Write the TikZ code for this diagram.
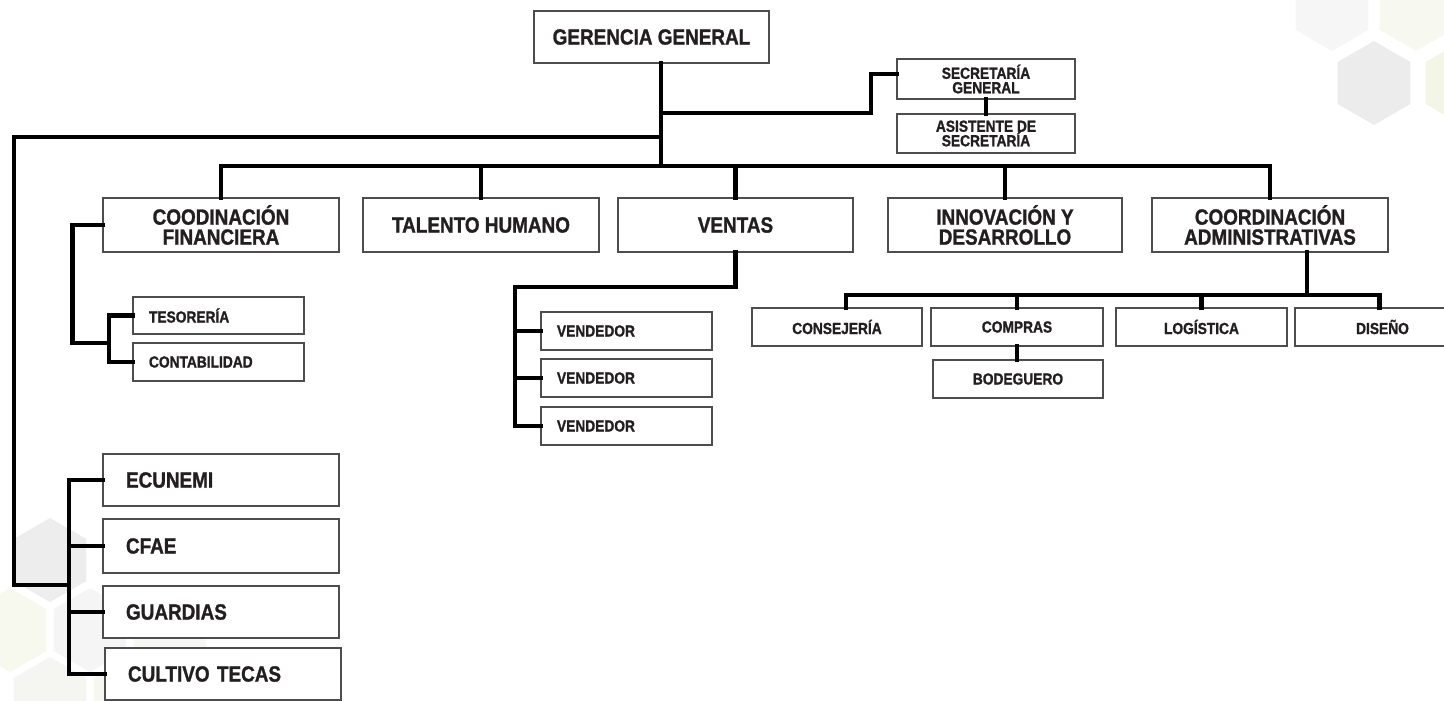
\documentclass[tikz,border=0pt]{standalone}
\usepackage{fontspec}
\newfontfamily\orgfont[FakeStretch=0.86,FakeBold=1.2]{Liberation Sans}
\definecolor{tinta}{HTML}{231F20}
\definecolor{borde}{HTML}{4D4D4D}
\begin{document}
\begin{tikzpicture}[x=1pt,y=-1pt,
  linea/.style={line width=4.5pt,line cap=rect,black},
  cargo/.style={draw=borde,line width=1.3pt,fill=white,inner sep=0pt,align=center,text=tinta,
    font=\orgfont\bfseries\fontsize{22}{20}\selectfont},
  menor/.style={cargo,font=\orgfont\bfseries\fontsize{16}{14.5}\selectfont},
  izq/.style={align=left,inner xsep=#1,text width=\pgfkeysvalueof{/pgf/minimum width}-2*#1}]
\useasboundingbox (0,0) rectangle (1444,701);
\foreach \cx/\cy/\col in {1374/83/ECECEC,1332/9/F6F6F6,1416/9/F7F8EF,1462/83/F3F5E6,
  50/560/EDEDED,10/630/F7F8EE,90/630/F5F5F5,170/630/F7F7F3,50/699/F5F5F2,130/699/F7F7F1}{
  \definecolor{hexa}{HTML}{\col}
  \fill[hexa] (\cx,\cy) +(90:42) -- +(150:42) -- +(210:42) -- +(270:42) -- +(330:42) -- +(30:42) -- cycle;
}
\node[cargo,minimum width=235pt,minimum height=52pt] (gg) at (651.5,37) {GERENCIA GENERAL};
\node[menor,minimum width=178pt,minimum height=40pt] (sec) at (986,79) {SECRETARÍA\\GENERAL};
\node[menor,minimum width=178pt,minimum height=39pt] (asis) at (986,133.5) {ASISTENTE DE\\SECRETARÍA};
\node[cargo,minimum width=236pt,minimum height=54pt] (cfin) at (221,225) {COODINACIÓN\\FINANCIERA};
\node[cargo,minimum width=236pt,minimum height=54pt] (thum) at (481,225) {TALENTO HUMANO};
\node[cargo,minimum width=235pt,minimum height=54pt] (vent) at (735.5,225) {VENTAS};
\node[cargo,minimum width=234pt,minimum height=54pt] (inno) at (1005,225) {INNOVACIÓN Y\\DESARROLLO};
\node[cargo,minimum width=236pt,minimum height=54pt] (cadm) at (1270,225) {COORDINACIÓN\\ADMINISTRATIVAS};
\node[menor,minimum width=171pt,minimum height=37pt,izq=16pt] (tes) at (218.5,315.5) {TESORERÍA};
\node[menor,minimum width=171pt,minimum height=38pt,izq=16pt] (cont) at (218.5,362) {CONTABILIDAD};
\node[menor,minimum width=171pt,minimum height=38pt,izq=16pt] (v1) at (626.5,331) {VENDEDOR};
\node[menor,minimum width=171pt,minimum height=38pt,izq=16pt] (v2) at (626.5,378) {VENDEDOR};
\node[menor,minimum width=171pt,minimum height=38pt,izq=16pt] (v3) at (626.5,426) {VENDEDOR};
\node[menor,minimum width=170pt,minimum height=38pt] (cons) at (837,327) {CONSEJERÍA};
\node[menor,minimum width=172pt,minimum height=38pt] (comp) at (1017,327) {COMPRAS};
\node[menor,minimum width=171pt,minimum height=38pt] (logi) at (1201.5,327) {LOGÍSTICA};
\node[menor,minimum width=175pt,minimum height=38pt] (dis) at (1382.5,327) {DISEÑO};
\node[menor,minimum width=170pt,minimum height=38pt] (bod) at (1018,379) {BODEGUERO};
\node[cargo,minimum width=236pt,minimum height=52pt,izq=23pt] (ecu) at (221,480) {ECUNEMI};
\node[cargo,minimum width=236pt,minimum height=54pt,izq=23pt] (cfae) at (221,546) {CFAE};
\node[cargo,minimum width=236pt,minimum height=52pt,izq=23pt] (guar) at (221,612) {GUARDIAS};
\node[cargo,minimum width=236pt,minimum height=52pt,izq=23pt] (cul) at (223,674) {CULTIVO TECAS};
\coordinate (tronco) at (661,166);
\coordinate (rsec) at (661,113);
\coordinate (rgen) at (661,137);
\coordinate (esq) at (14,585);
\coordinate (rext) at (69,585);
\coordinate (rfin) at (109,343);
\coordinate (rven) at (515,287);
\coordinate (badm) at (1307,295);
\draw[linea] (gg.south -| tronco) -- (tronco);
\draw[linea] (cfin.north |- tronco) -- (cadm.north |- tronco);
\foreach \n in {cfin,thum,vent,inno,cadm}
  \draw[linea] (\n.north) -- (\n.north |- tronco);
\draw[linea] (rsec) -- ++(210,0) |- ([yshift=5pt]sec.west);
\draw[linea] (sec.south) -- (asis.north);
\draw[linea] (rgen) -| (esq) -- (rext);
\draw[linea] (ecu.west -| rext) -- (cul.west -| rext);
\foreach \n in {ecu,cfae,guar,cul}
  \draw[linea] (\n.west) -- (\n.west -| rext);
\draw[linea] (cfin.west) -- ++(-30,0) |- (rfin);
\draw[linea] (tes.west -| rfin) -- (cont.west -| rfin);
\foreach \n in {tes,cont}
  \draw[linea] (\n.west) -- (\n.west -| rfin);
\draw[linea] (vent.south) |- (rven) -- (rven |- v3.west);
\foreach \n in {v1,v2,v3}
  \draw[linea] (\n.west) -- (\n.west -| rven);
\draw[linea] (cadm.south -| badm) -- (badm);
\draw[linea] ([xshift=9pt]cons.north |- badm) -- ([xshift=-3pt]dis.north |- badm);
\draw[linea] ([xshift=9pt]cons.north) -- ([xshift=9pt]cons.north |- badm);
\foreach \n in {comp,logi}
  \draw[linea] (\n.north) -- (\n.north |- badm);
\draw[linea] ([xshift=-3pt]dis.north) -- ([xshift=-3pt]dis.north |- badm);
\draw[linea] (comp.south) -- (comp.south |- bod.north);
\end{tikzpicture}
\end{document}
